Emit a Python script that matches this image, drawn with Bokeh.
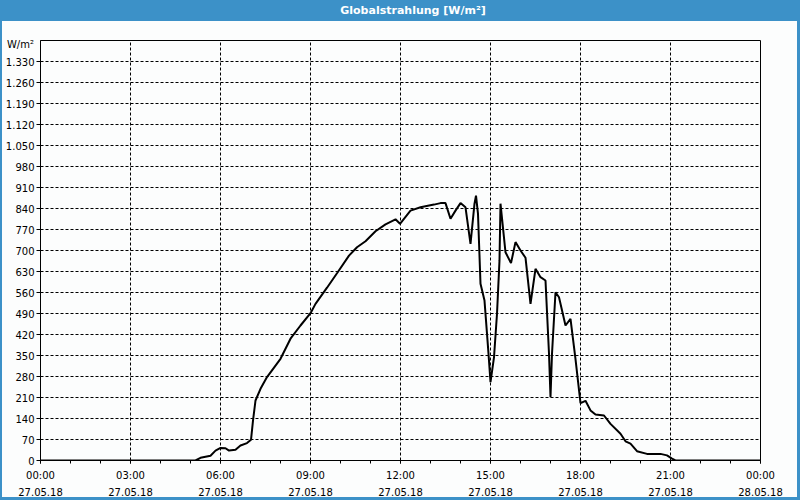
from bokeh.plotting import figure
from bokeh.models import FixedTicker, LinearAxis, Div, Range1d
from bokeh.layouts import column
from bokeh.embed import file_html
from bokeh.resources import INLINE

# ---- data ----
times = ["00:00", "05:10", "05:20", "05:40", "05:50", "06:00", "06:10", "06:17", "06:30",
         "06:40", "06:53", "07:01", "07:05", "07:10", "07:20", "07:33", "08:00", "08:20",
         "08:40", "09:00", "09:10", "09:33", "09:53", "10:17", "10:33", "10:50", "11:10",
         "11:30", "11:50", "11:59", "12:20", "12:40", "13:07", "13:20", "13:30", "13:40",
         "13:50", "14:00", "14:10", "14:20", "14:28", "14:31", "14:35", "14:40", "14:48",
         "14:56", "15:00", "15:07", "15:13", "15:18", "15:20", "15:30", "15:41", "15:50",
         "16:00", "16:10", "16:20", "16:30", "16:40", "16:50", "16:57", "17:00", "17:03",
         "17:10", "17:17", "17:30", "17:40", "17:50", "18:00", "18:10", "18:20", "18:30",
         "18:47", "19:00", "19:20", "19:30", "19:40", "19:53", "20:13", "20:40", "20:53",
         "21:03", "21:10", "24:00"]
values = [0, 0, 9, 16, 33, 42, 41, 33, 36,
          50, 58, 69, 133, 200, 239, 278, 339, 406,
          450, 491, 522, 576, 624, 683, 711, 731, 764,
          787, 804, 789, 833, 844, 853, 858, 858, 806,
          833, 858, 844, 722, 856, 883, 822, 589, 533,
          356, 261, 344, 489, 667, 856, 694, 658, 728,
          700, 676, 522, 639, 611, 600, 356, 211, 356,
          561, 544, 450, 472, 338, 191, 199, 167, 153,
          150, 122, 89, 64, 56, 31, 22, 22, 17,
          6, 0, 0]

x_tick_hours = [0, 3, 6, 9, 12, 15, 18, 21, 24]
x_minor_hours = [0, 1, 2, 3, 4, 5, 6, 7, 8, 9, 10, 11, 12, 13, 14, 15, 16, 17, 18,
                 19, 20, 21, 22, 23, 24]
x_time_labels = ["00:00", "03:00", "06:00", "09:00", "12:00", "15:00", "18:00", "21:00", "00:00"]
x_date_labels = ["27.05.18", "27.05.18", "27.05.18", "27.05.18", "27.05.18",
                 "27.05.18", "27.05.18", "27.05.18", "28.05.18"]
y_ticks = [0, 70, 140, 210, 280, 350, 420, 490, 560, 630, 700, 770, 840, 910, 980,
           1050, 1120, 1190, 1260, 1330]
y_tick_labels = ["0", "70", "140", "210", "280", "350", "420", "490", "560", "630", "700",
                 "770", "840", "910", "980", "1.050", "1.120", "1.190", "1.260", "1.330"]
title_text = "Globalstrahlung [W/m²]"
unit_text = "W/m²"


def to_hours(t):
    h, m = t.split(":")
    return int(h) + int(m) / 60.0


hours = [to_hours(t) for t in times]

FONT = "DejaVu Sans"
BG = "#fcfdfd"
BLUE = "#3c91c8"

p = figure(width=800, height=479, x_range=Range1d(0, 24), y_range=Range1d(0, 1400),
           output_backend="svg", toolbar_location=None, margin=0,
           min_border_left=40, min_border_right=40, min_border_top=19, min_border_bottom=40)
p.background_fill_color = BG
p.border_fill_alpha = 0
p.outline_line_color = "black"
p.outline_line_alpha = 1
p.outline_line_width = 1

p.line(hours, values, line_color="black", line_width=2)

# x axis: times
xa = p.xaxis[0]
xa.ticker = FixedTicker(ticks=x_tick_hours, minor_ticks=x_minor_hours)
xa.major_label_overrides = {h: l for h, l in zip(x_tick_hours, x_time_labels)}
xa.major_tick_in = 0
xa.major_tick_out = 3
xa.minor_tick_in = 0
xa.minor_tick_out = 3
xa.axis_line_color = "black"
xa.major_tick_line_color = "black"
xa.minor_tick_line_color = "black"
xa.major_label_standoff = 6
xa.major_label_text_font = FONT
xa.major_label_text_font_size = "10px"
xa.major_label_text_color = "black"

# second x axis: dates
xb = LinearAxis(ticker=FixedTicker(ticks=x_tick_hours, minor_ticks=[]))
xb.major_label_overrides = {h: l for h, l in zip(x_tick_hours, x_date_labels)}
xb.axis_line_color = None
xb.major_tick_line_color = None
xb.minor_tick_line_color = None
xb.major_tick_in = 0
xb.major_tick_out = 0
xb.major_label_standoff = 4
xb.major_label_text_font = FONT
xb.major_label_text_font_size = "10px"
xb.major_label_text_color = "black"
p.add_layout(xb, "below")

# y axis
ya = p.yaxis[0]
ya.ticker = FixedTicker(ticks=y_ticks, minor_ticks=[])
ya.major_label_overrides = {v: l for v, l in zip(y_ticks, y_tick_labels)}
ya.major_tick_in = 0
ya.major_tick_out = 4
ya.minor_tick_out = 0
ya.axis_line_color = "black"
ya.major_tick_line_color = "black"
ya.major_label_standoff = 2
ya.major_label_text_font = FONT
ya.major_label_text_font_size = "10px"
ya.major_label_text_color = "black"

p.xgrid.ticker = FixedTicker(ticks=x_tick_hours)
p.grid.grid_line_color = "black"
p.grid.grid_line_dash = "3 2"
p.grid.grid_line_width = 1

div = Div(text='<div style="position:relative;width:800px;height:21px;">'
               '<div style="display:block;width:800px;box-sizing:border-box;'
               'text-align:center;padding-left:26px;line-height:21px;'
               'font-family:DejaVu Sans;font-weight:bold;font-size:11px;color:white;">'
               + title_text + '</div>'
               '<span style="position:absolute;right:766px;top:39px;line-height:12px;'
               'white-space:nowrap;font-family:DejaVu Sans;font-size:10px;color:black;">'
               + unit_text + '</span></div>',
          width=800, height=21, margin=0,
          styles={"background-color": BLUE, "overflow": "visible", "z-index": "5"})

layout = column(div, p, spacing=0, width=800, height=500, margin=0,
                styles={"background-color": BG,
                        "box-shadow": "inset 2px 0 0 %s, inset -3px -3px 0 %s" % (BLUE, BLUE)})

open("out.html", "w").write(file_html(layout, INLINE))
